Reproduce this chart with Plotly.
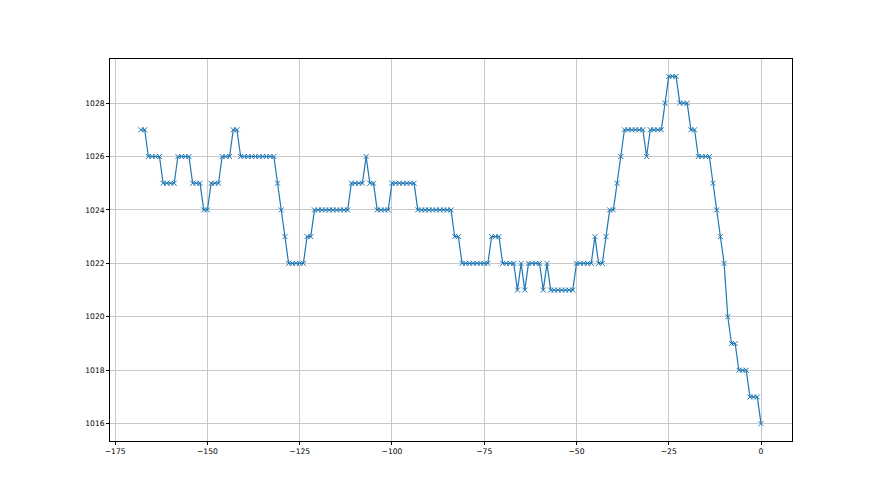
import plotly.graph_objects as go

hours = list(range(-168, 1))
segments = [
    (1027, 2), (1026, 4), (1025, 4), (1026, 4), (1025, 3), (1024, 2), (1025, 3),
    (1026, 3), (1027, 2), (1026, 10), (1025, 1), (1024, 1), (1023, 1), (1022, 5),
    (1023, 2), (1024, 10), (1025, 4), (1026, 1), (1025, 2), (1024, 4), (1025, 7),
    (1024, 10), (1023, 2), (1022, 8), (1023, 3), (1022, 4), (1021, 1), (1022, 1),
    (1021, 1), (1022, 4), (1021, 1), (1022, 1), (1021, 7), (1022, 5), (1023, 1),
    (1022, 2), (1023, 1), (1024, 2), (1025, 1), (1026, 1), (1027, 6), (1026, 1),
    (1027, 4), (1028, 1), (1029, 3), (1028, 3), (1027, 2), (1026, 4), (1025, 1),
    (1024, 1), (1023, 1), (1022, 1), (1020, 1), (1019, 2), (1018, 3), (1017, 3),
    (1016, 1),
]
pressure = []
for v, n in segments:
    pressure += [v] * n

x_ticks = [-175, -150, -125, -100, -75, -50, -25, 0]
y_ticks = [1016, 1018, 1020, 1022, 1024, 1026, 1028]

fig = go.Figure()
fig.add_trace(go.Scatter(
    x=hours, y=pressure, mode="lines+markers",
    line=dict(color="#1f77b4", width=1.2),
    marker=dict(symbol="x-thin", size=5, color="#1f77b4",
                line=dict(color="#1f77b4", width=1)),
    showlegend=False,
))

axis_common = dict(
    showline=True, linecolor="black", linewidth=0.8, mirror=True,
    ticks="outside", ticklen=3, tickwidth=0.8, tickcolor="black",
    showgrid=True, gridcolor="#c8c8c8", gridwidth=0.8, zeroline=False,
    tickfont=dict(family="DejaVu Sans", size=7.6, color="black"),
)
fig.update_xaxes(range=[-176.4, 8.4], tickvals=x_ticks,
                 ticktext=[str(t).replace("-", "\u2212") for t in x_ticks], **axis_common)
fig.update_yaxes(range=[1015.35, 1029.65], tickvals=y_ticks,
                 ticktext=[str(t) for t in y_ticks], **axis_common)
fig.update_layout(
    width=880, height=495,
    margin=dict(l=102, r=96, t=51, b=62),
    paper_bgcolor="white", plot_bgcolor="white",
)
fig.write_html("out.html")
